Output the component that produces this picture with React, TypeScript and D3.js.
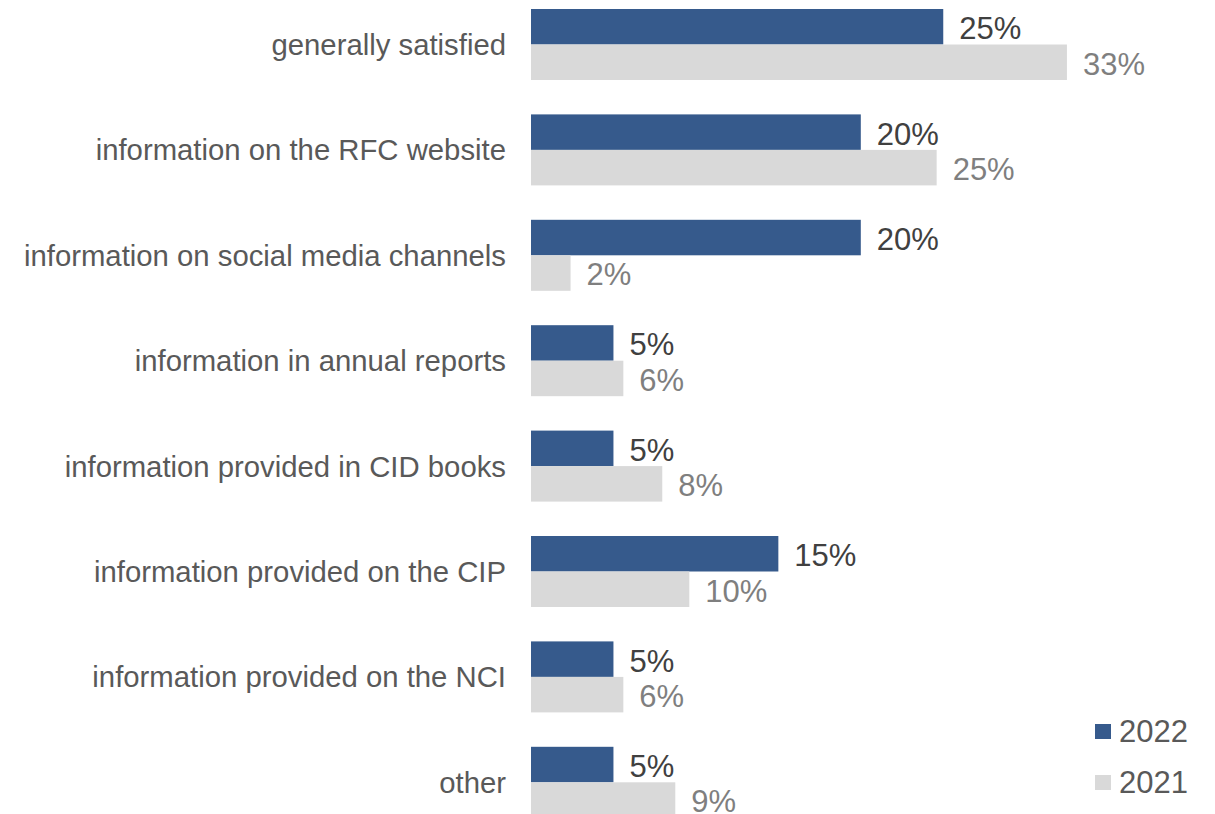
import React from "react";
import * as d3 from "d3";

const categories = [
  "generally satisfied",
  "information on the RFC website",
  "information on social media channels",
  "information in annual reports",
  "information provided in CID books",
  "information provided on the CIP",
  "information provided on the NCI",
  "other",
];
const seriesNames = ["2022", "2021"];
const values2022 = [25, 20, 20, 5, 5, 15, 5, 5];
const values2021 = [32.5, 24.6, 2.4, 5.6, 7.96, 9.6, 5.6, 8.75];

const colors: Record<string, string> = { "2022": "#365A8C", "2021": "#D9D9D9" };
const labelColors: Record<string, string> = { "2022": "#404040", "2021": "#7F7F7F" };
const FONT = "Arial, 'Liberation Sans', Helvetica, sans-serif";

export default function App() {
  const W = 1215;
  const H = 814;
  const x = d3.scaleLinear().domain([0, 40]).range([531, 531 + 40 * 16.49]);
  const y = d3
    .scaleBand<string>()
    .domain(categories)
    .range([9, 817.8])
    .paddingInner(0.3264)
    .paddingOuter(0);
  const ys = d3.scaleBand<string>().domain(seriesNames).range([0, y.bandwidth()]).padding(0);

  const data = seriesNames.map((s) => ({
    name: s,
    values: s === "2022" ? values2022 : values2021,
  }));

  return (
    <svg
      width={W}
      height={H}
      style={{ position: "absolute", left: 0, top: 0, background: "#fff" }}
      fontFamily={FONT}
    >
      {categories.map((c) => (
        <text
          key={c}
          x={506}
          y={(y(c) ?? 0) + y.bandwidth() / 2 + 10.4}
          textAnchor="end"
          fontSize={29.3}
          fill="#595959"
        >
          {c}
        </text>
      ))}
      {data.map((s) =>
        categories.map((c, i) => {
          const v = s.values[i];
          const by = (y(c) ?? 0) + (ys(s.name) ?? 0);
          const bh = ys.bandwidth();
          return (
            <g key={s.name + c}>
              <rect x={x(0)} y={by} width={x(v) - x(0)} height={bh} fill={colors[s.name]} />
              <text
                x={x(v) + 16}
                y={by + bh / 2 + 12.4}
                fontSize={31}
                fill={labelColors[s.name]}
              >
                {Math.round(v) + "%"}
              </text>
            </g>
          );
        })
      )}
      {seriesNames.map((s, i) => (
        <g key={s} transform={`translate(1095, ${724 + i * 51})`}>
          <rect x={0} y={0} width={16} height={15} fill={colors[s]} />
          <text x={24} y={18} fontSize={31} fill="#595959">
            {s}
          </text>
        </g>
      ))}
    </svg>
  );
}
